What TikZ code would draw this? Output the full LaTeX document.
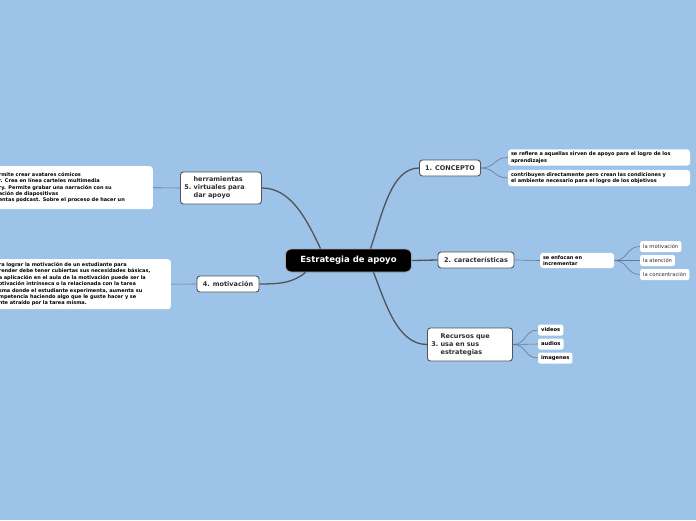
\documentclass[tikz,border=0pt]{standalone}
\usepackage{fontspec}
\setmainfont{DejaVu Sans}
\definecolor{fondo}{RGB}{157,195,232}
\definecolor{rama}{RGB}{80,84,90}
\definecolor{hilo}{RGB}{105,120,140}
\definecolor{texto}{RGB}{45,45,45}

\begin{document}
\begin{tikzpicture}[x=1pt,y=-1pt,
  raiz/.style={draw=gray!70,fill=black,text=white,rounded corners=6pt,line width=0.8pt,
    font=\fontsize{8.5}{10}\selectfont\bfseries,minimum width=126pt,minimum height=23pt},
  tema/.style={draw=rama,fill=white,text=texto,rounded corners=3pt,line width=0.9pt,
    font=\fontsize{6.5}{8}\selectfont\bfseries,inner xsep=5pt,inner ysep=4pt},
  nota/.style={fill=white,text=black,rounded corners=3pt,align=left,
    font=\fontsize{5}{6.4}\selectfont\bfseries,inner xsep=3pt,inner ysep=2.5pt},
  hoja/.style={fill=white,text=texto,rounded corners=2pt,anchor=west,
    font=\fontsize{5.2}{6}\selectfont,inner xsep=3pt,inner ysep=2pt,minimum height=11pt},
  hojab/.style={hoja,font=\fontsize{5.2}{6}\selectfont\bfseries,text=black},
  tronco/.style={draw=rama,line width=1.3pt},
  hilo/.style={draw=hilo,line width=0.6pt}]
\useasboundingbox (0,0) rectangle (696,520);
\fill[fondo] (0,0) rectangle (696,520);

\node[raiz] (c) at (348.5,260.5) {Estrategia de apoyo};

\node[tema,minimum width=61pt,minimum height=16pt] (a) at (450,168) {1. CONCEPTO};
\node[nota,text width=176pt] (a1) at (599,157.5) {se refiere a aquellas sirven de apoyo para el logro de los\\
aprendizajes};
\node[nota,text width=176pt] (a2) at (599,178) {contribuyen directamente pero crean las condiciones y\\
el ambiente necesario para el logro de los objetivos};

\node[tema,minimum width=76pt,minimum height=16pt] (b) at (476,260) {2. características};
\node[nota,text width=68pt] (b1) at (577,260.5) {se enfocan en\\
incrementar};
\node[hoja] (b2) at (640,246.5) {la motivación};
\node[hoja] (b3) at (640,260.5) {la atención};
\node[hoja] (b4) at (640,274.5) {la concentración};

\node[tema,anchor=west,text width=77pt,inner xsep=4pt,minimum height=33pt] (d) at (427,344.5) {3.\ \begin{tabular}{@{}l@{}}Recursos que\\
usa en sus\\
estrategias\end{tabular}};
\node[hojab] (d1) at (538,330) {videos};
\node[hojab] (d2) at (538,344) {audios};
\node[hojab] (d3) at (538,358) {imagenes};

\node[tema,minimum width=62pt,minimum height=16pt] (e) at (228,284) {4. motivación};
\node[nota,anchor=north east,text width=169pt,minimum height=50pt] (e1) at (171,259) {ra lograr la motivación de un estudiante para\\
render debe tener cubiertas sus necesidades básicas,\\
a aplicación en el aula de la motivación puede ser la\\
otivación intrínseca o la relacionada con la tarea\\
sma donde el estudiante experimenta, aumenta su\\
mpetencia haciendo algo que le guste hacer y se\\
nte atraído por la tarea misma.};

\node[tema,anchor=west,text width=73pt,inner xsep=4pt,minimum height=32pt] (f) at (180,188) {5.\ \begin{tabular}{@{}l@{}}herramientas\\
virtuales para\\
dar apoyo\end{tabular}};
\node[nota,anchor=north east,text width=151pt,minimum height=43pt] (f1) at (153,166) {rmite crear avatares cómicos\\
r. Crea en línea carteles multimedia\\
ry. Permite grabar una narración con su\\
ación de diapositivas\\
entas podcast. Sobre el proceso de hacer un};

\draw[tronco] ([xshift=22pt]c.north) .. controls +(12,-35) and +(-28,0) .. (a.west);
\draw[tronco] (c.east) -- (b.west);
\draw[tronco] ([xshift=25pt]c.south) .. controls +(12,30) and +(-30,0) .. (d.west);
\draw[tronco] ([xshift=-43pt]c.south) .. controls +(-12,10) and +(22,0) .. (e.east);
\draw[tronco] ([xshift=-28pt]c.north) .. controls +(-15,-32) and +(28,0) .. (f.east);

\draw[hilo] (a.east) .. controls +(14,0) and +(-14,0) .. (a1.west);
\draw[hilo] (a.east) .. controls +(14,0) and +(-14,0) .. (a2.west);
\draw[hilo] (b.east) -- (b1.west);
\draw[hilo] (b1.east) .. controls +(14,0) and +(-14,0) .. (b2.west);
\draw[hilo] (b1.east) -- (b3.west);
\draw[hilo] (b1.east) .. controls +(14,0) and +(-14,0) .. (b4.west);
\draw[hilo] (d.east) .. controls +(14,0) and +(-14,0) .. (d1.west);
\draw[hilo] (d.east) -- (d2.west);
\draw[hilo] (d.east) .. controls +(14,0) and +(-14,0) .. (d3.west);
\draw[hilo] (e.west) -- (e1.east);
\draw[hilo] (f.west) -- (f1.east);
\end{tikzpicture}
\end{document}
